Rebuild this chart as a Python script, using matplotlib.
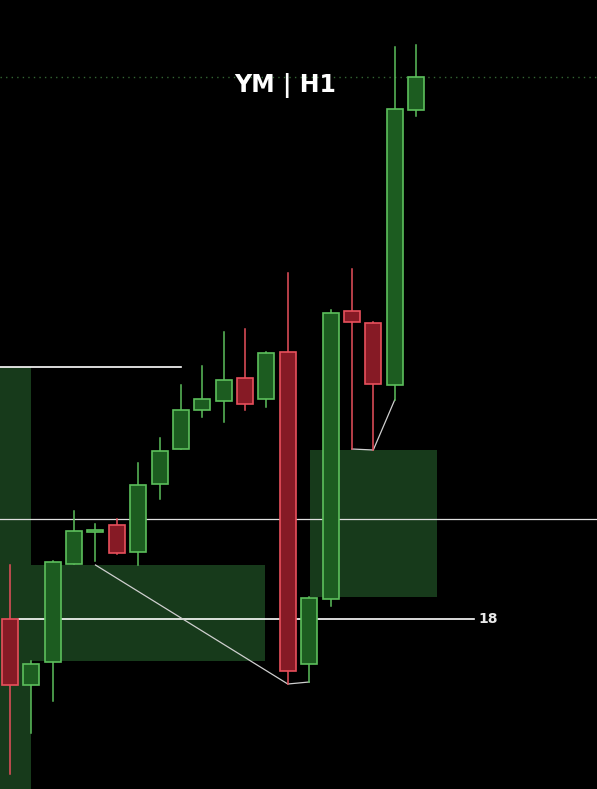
#!/usr/bin/env python3
"""YM H1 candlestick snapshot with zones and levels, rendered to out.png."""
import matplotlib
matplotlib.use("Agg")
import matplotlib.pyplot as plt  # noqa: E402
from matplotlib.patches import Rectangle  # noqa: E402

# OHLC (price units are arbitrary, bottom of frame = 0)
opens = [170, 104, 127, 225, 257, 264, 237, 305, 340, 379,
         388, 411, 390, 437, 125, 190, 478, 466, 404, 679]
highs = [224, 128, 228, 278, 265, 270, 326, 351, 404, 423,
         457, 460, 437, 516, 192, 479, 520, 467, 742, 744]
lows = [15, 56, 88, 225, 228, 235, 224, 290, 340, 372,
        367, 379, 382, 105, 107, 183, 340, 339, 389, 673]
closes = [104, 125, 227, 258, 259, 236, 304, 338, 379, 390,
          409, 385, 436, 118, 191, 476, 467, 405, 680, 712]

# zones: (x start, x end, price low, price high)
zones = [(-0.5, 0.98, 0, 422),
         (1.0, 11.93, 128, 224),
         (14.05, 20.0, 192, 339)]

# level lines: (price, x start, x end)
level_top = (422, -0.5, 8.0)
level_mid = 270
level_18 = (170, 0.42, 21.7)
dotted_level = 712
label_18 = "18"

# swing connector paths (candle index, price)
swing_a = ([4, 13, 14], [224, 105, 107])
swing_b = ([16, 17, 18], [340, 339, 389])

GREEN_BODY = "#1c5c20"
GREEN_EDGE = "#5cbf5c"
RED_BODY = "#861a25"
RED_EDGE = "#e8505c"
ZONE = "#173a1b"

fig = plt.figure(figsize=(5.97, 7.89), dpi=100, facecolor="black")
ax = fig.add_axes([0, 0, 1, 1])
ax.set_facecolor("black")
ax.set_xlim(-10 / 21.37, 587 / 21.37)
ax.set_ylim(0, 789)
ax.axis("off")

for x0, x1, lo, hi in zones:
    ax.add_patch(Rectangle((x0, lo), x1 - x0, hi - lo, facecolor=ZONE,
                           edgecolor="none", zorder=1))

ax.axhline(dotted_level, color="#336633", lw=1, ls=(0, (1, 3)), zorder=1)
ax.axhline(level_mid, color="#e0e0e0", lw=0.9, zorder=2)
ax.plot([level_top[1], level_top[2]], [level_top[0]] * 2, color="white",
        lw=1.2, zorder=2)
ax.plot([level_18[1], level_18[2]], [level_18[0]] * 2, color="white",
        lw=1.2, zorder=2)
ax.text(22.37, level_18[0], label_18, color="#e8e8e8", fontsize=10,
        fontweight="bold", ha="center", va="center")

for xs, ys in (swing_a, swing_b):
    ax.plot(xs, ys, color="#cfcfcf", lw=0.9, zorder=2)

w = 0.75
for i, (o, h, l, c) in enumerate(zip(opens, highs, lows, closes)):
    up = c >= o
    body, edge = (GREEN_BODY, GREEN_EDGE) if up else (RED_BODY, RED_EDGE)
    ax.plot([i, i], [l, h], color=edge, lw=1.1, zorder=3)
    ax.add_patch(Rectangle((i - w / 2, min(o, c)), w, max(abs(c - o), 1.5),
                           facecolor=body, edgecolor=edge, lw=1.2,
                           zorder=4))

ax.text(285.5 / 21.37 - 10 / 21.37, 789 - 85, "YM | H1", color="white",
        fontsize=17, fontweight="bold", ha="center", va="center", zorder=5)

fig.savefig("out.png", dpi=100, facecolor="black")
